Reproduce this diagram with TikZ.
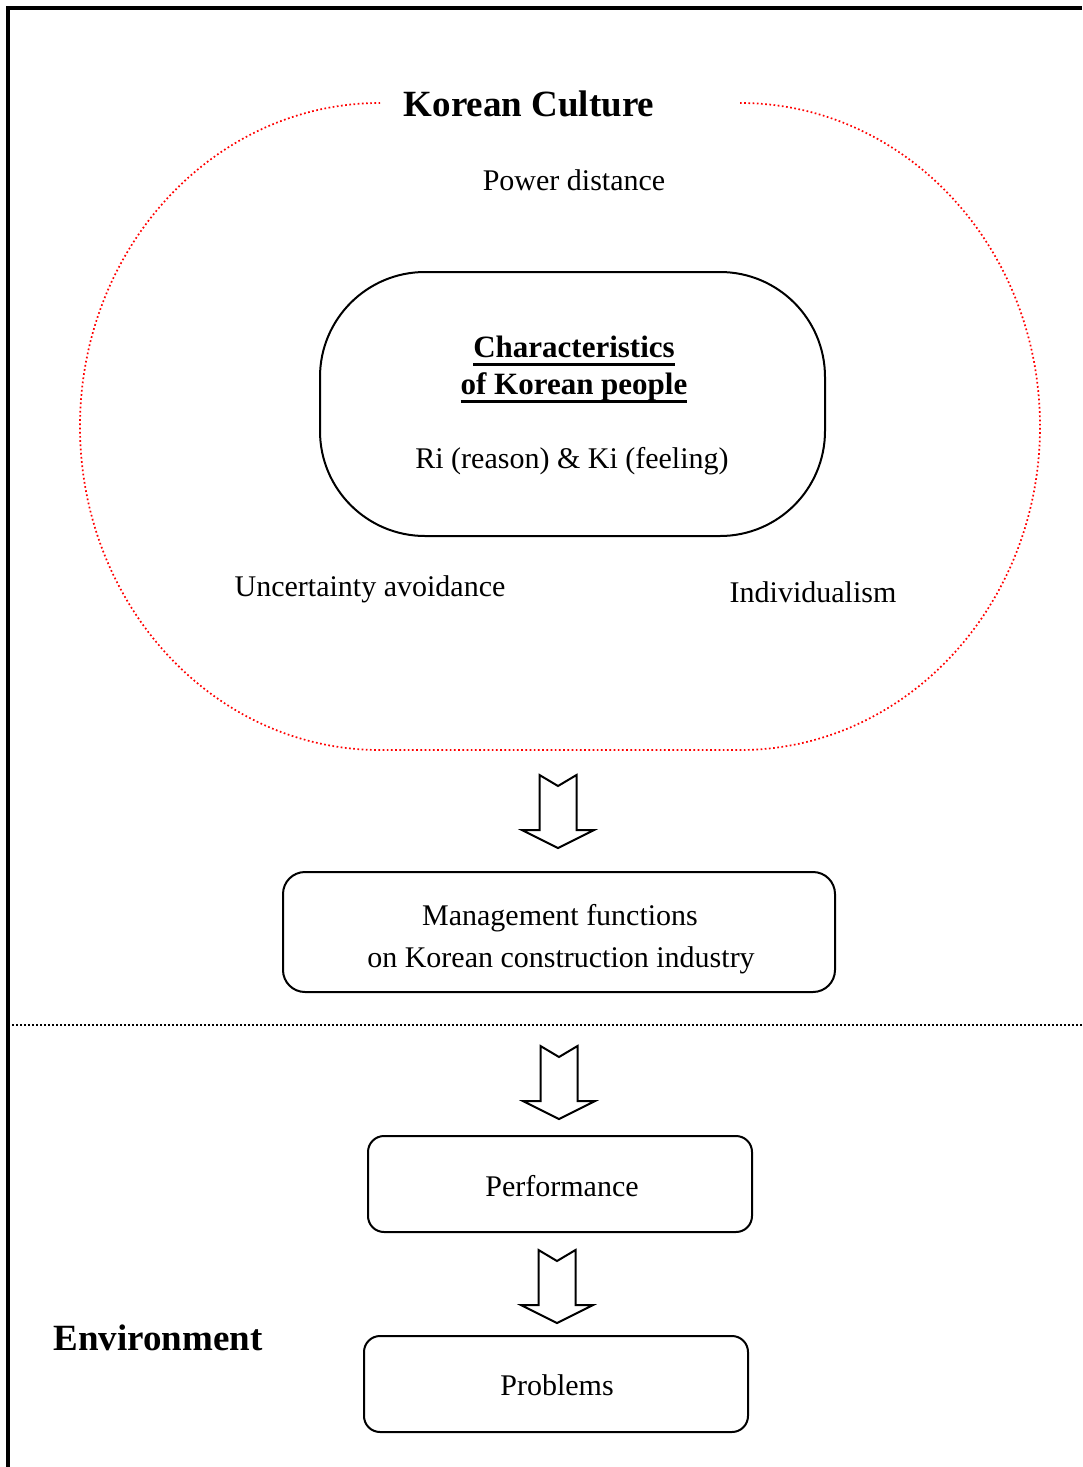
\documentclass[tikz,border=0pt]{standalone}
\usepackage{fontspec}
\setmainfont{Liberation Serif}
\usetikzlibrary{calc}

% heavy underline used for the inner heading
\newsavebox{\ulbox}
\newcommand{\thickul}[1]{\sbox{\ulbox}{#1}\rlap{\usebox{\ulbox}}\rule[-9pt]{\wd\ulbox}{3pt}}

% hollow block arrow with a notched tail; #1 is the centre of the tail
\newcommand{\blockarrow}[1]{%
  \draw[blockarr] ($(#1)+(-18.5,0)$) -- ($(#1)+(0,11)$) -- ($(#1)+(18.5,0)$)
    -- ($(#1)+(18.5,55)$) -- ($(#1)+(36,55)$) -- ($(#1)+(0,73)$)
    -- ($(#1)+(-36,55)$) -- ($(#1)+(-18.5,55)$) -- cycle;}

\tikzset{
  body/.style={font=\fontsize{30}{36}\selectfont, inner sep=0pt, anchor=base},
  heading/.style={font=\fontsize{37}{44}\selectfont\bfseries, inner sep=0pt, anchor=base},
  subhead/.style={font=\fontsize{31}{38}\selectfont\bfseries, inner sep=0pt, anchor=base},
  box/.style={draw, line width=2pt, inner sep=0pt},
  culture/.style={draw=red, line width=1.7pt, dash pattern=on 1.7pt off 2.5pt},
  blockarr/.style={draw, line width=2pt, line join=miter},
  frame/.style={line width=4pt},
  divider/.style={line width=1.5pt, dash pattern=on 1.5pt off 2.5pt},
}

\begin{document}
\begin{tikzpicture}[x=1pt, y=-1pt]
\useasboundingbox (0,0) rectangle (1082,1467);

% page frame, open on the right and at the bottom
\draw[frame] (1082,8) -- (8,8) -- (8,1467);

% Korean culture region (gap left for its title)
\draw[culture] (740,103) arc[start angle=-90, end angle=0, x radius=300, y radius=323.5]
  arc[start angle=0, end angle=90, x radius=300, y radius=323.5]
  -- (380,750)
  arc[start angle=90, end angle=180, x radius=300, y radius=323.5]
  arc[start angle=180, end angle=270, x radius=300, y radius=323.5];

\node[heading] (title) at (529,116) {Korean Culture};
\node[body] (power) at (574,190) {Power distance};
\node[body] (uncert) at (370,596) {Uncertainty avoidance};
\node[body] (indiv) at (813,602) {Individualism};

% characteristics of Korean people
\node[box, rounded corners=105pt, minimum width=505pt, minimum height=264pt] (people) at (572.5,404) {};
\node[subhead] (charA) at (574,357) {\thickul{Characteristics}};
\node[subhead] (charB) at (574,394) {\thickul{of Korean people}};
\node[body] (riki) at (572,468) {Ri (reason) \& Ki (feeling)};

% management functions
\node[box, rounded corners=22pt, minimum width=552pt, minimum height=120pt] (mgmt) at (559,932) {};
\node[body] (mgmtA) at (560,925) {Management functions};
\node[body] (mgmtB) at (561,967) {on Korean construction industry};

% boundary to the environment
\coordinate (divL) at (12,1025);
\coordinate (divR) at (1082,1025);
\draw[divider] (divL) -- (divR);

% performance and problems
\node[box, rounded corners=16pt, minimum width=384pt, minimum height=96pt] (perf) at (560,1184) {};
\node[body] (perfT) at (562,1196) {Performance};
\node[box, rounded corners=16pt, minimum width=384pt, minimum height=96pt] (prob) at (556,1384) {};
\node[body] (probT) at (557,1395) {Problems};

\node[heading] (env) at (158,1350) {Environment};

% flow arrows
\coordinate (arrA) at (558,775);
\coordinate (arrB) at (559,1046);
\coordinate (arrC) at (557,1250);
\blockarrow{arrA}
\blockarrow{arrB}
\blockarrow{arrC}
\end{tikzpicture}
\end{document}
